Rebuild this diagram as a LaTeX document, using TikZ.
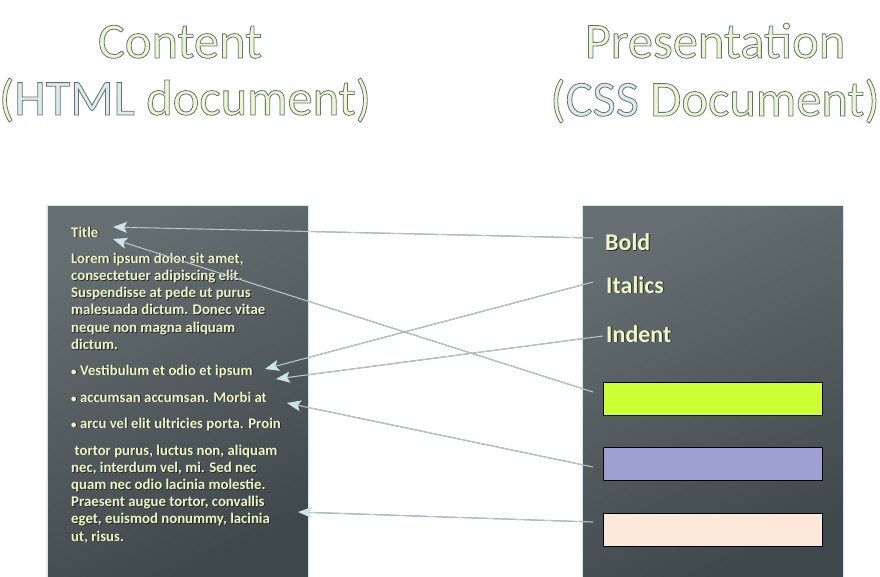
\documentclass[tikz,border=0pt]{standalone}
\usepackage{fontspec}
\setmainfont{Carlito}
\usetikzlibrary{arrows.meta}

\definecolor{headfill}{HTML}{EBF7D3}
\definecolor{headblue}{HTML}{D9ECF2}
\definecolor{panelA}{HTML}{656F71}
\definecolor{panelB}{HTML}{3F484A}
\definecolor{panelrim}{HTML}{D2E8EA}
\definecolor{txt}{HTML}{EEF6C6}
\definecolor{shadowc}{HTML}{262C2D}
\definecolor{lime}{HTML}{CEFF33}
\definecolor{lav}{HTML}{9EA0D3}
\definecolor{peach}{HTML}{FDE9D9}
\definecolor{wire}{HTML}{CAD6DA}
\definecolor{wiredark}{HTML}{8A9498}
\definecolor{tipc}{HTML}{CFE3EB}

% outlined heading text: fill in the current colour, thin grey stroke
\newcommand\outl[2]{{\color{#1}\special{pdf:literal direct 2 Tr 0.8 w 0.40 0.45 0.42 RG}#2\special{pdf:literal direct 0 Tr 0.4 w}}}
% text with a small drop shadow
\newcommand\shd[1]{\leavevmode\rlap{\kern0.9pt\raisebox{-0.9pt}{\color{shadowc}#1}}#1}
\newcommand\bul{{\fontsize{11}{11}\selectfont•}}

\tikzset{
  headtext/.style={font=\fontsize{50.5}{50}\selectfont, inner sep=0, anchor=base},
  panelbox/.style={draw=panelrim, line width=0.8pt, top color=panelA, bottom color=panelB,
    shading angle=25, inner sep=0, anchor=north west},
  swatch/.style={draw=black, line width=1pt, inner sep=0, anchor=north west,
    minimum width=219pt, minimum height=33pt},
  body/.style={font=\bfseries\fontsize{14.8}{17}\selectfont, text=txt, inner sep=0, anchor=base west},
  label/.style={font=\bfseries\fontsize{24}{24}\selectfont, text=txt, inner sep=0, anchor=base west},
  wireunder/.style={draw=wiredark, line width=1.2pt, shorten >=10pt},
  wireover/.style={draw=wire, line width=0.6pt,
    -{Stealth[length=14pt,width=11pt,inset=3pt,color=tipc,fill=tipc]}},
}

\begin{document}
\begin{tikzpicture}[x=1pt,y=-1pt]
\useasboundingbox (0,0) rectangle (880,577);
\fill[white] (0,0) rectangle (880,577);

% headings
\node[headtext] (h1) at (180,58) {\outl{headfill}{Content}};
\node[headtext] (h2) at (185,115) {\outl{headfill}{(}\outl{headblue}{HTML}\outl{headfill}{ document)}};
\node[headtext] (h3) at (715,58) {\outl{headfill}{Presentation}};
\node[headtext] (h4) at (715,116) {\outl{headfill}{(}\outl{headblue}{CSS}\outl{headfill}{ Document)}};

% the two panels
\node[panelbox, minimum width=261.5pt, minimum height=371pt] (lpanel) at (46.5,205.5) {};
\node[panelbox, minimum width=261pt, minimum height=371pt] (rpanel) at (582,205.5) {};

% content side
\node[body] (title) at (71,237) {\shd{Title}};
\foreach \t [count=\i] in {Lorem ipsum dolor sit amet{,},consectetuer adipiscing elit.,
    Suspendisse at pede ut purus,malesuada dictum. Donec vitae,neque non magna aliquam,dictum.}
  \node[body] (pa\i) at (71,{263+17.3*(\i-1)}) {\shd{\t}};
\node[body] (b1) at (71,375) {\shd{\bul\ Vestibulum et odio et ipsum}};
\node[body] (b2) at (71,402) {\shd{\bul\ accumsan accumsan. Morbi at}};
\node[body] (b3) at (71,428) {\shd{\bul\ arcu vel elit ultricies porta. Proin}};
\foreach \t [count=\i] in {\ tortor purus{,} luctus non{,} aliquam,nec{,} interdum vel{,} mi. Sed nec,
    quam nec odio lacinia molestie.,Praesent augue tortor{,} convallis,eget{,} euismod nonummy{,} lacinia,ut{,} risus.}
  \node[body] (pb\i) at (71,{455+17.2*(\i-1)}) {\shd{\t}};

% presentation side
\node[label] (bold) at (605,251) {\shd{Bold}};
\node[label] (ital) at (606,293) {\shd{Italics}};
\node[label] (indent) at (606,342) {\shd{Indent}};
\node[swatch, fill=lime] (lime) at (603,382) {};
\node[swatch, fill=lav] (lav) at (603,447) {};
\node[swatch, fill=peach] (peach) at (603,513) {};

% connector ends
\coordinate (sBold) at (593,238);
\coordinate (sLime) at (593,392);
\coordinate (sItal) at (593,282);
\coordinate (sIndent) at (603,336);
\coordinate (sLav) at (593,467);
\coordinate (sPeach) at (593,522);
\coordinate (tTitleA) at (113,227);
\coordinate (tTitleB) at (113,239);
\coordinate (tVest) at (265,369);
\coordinate (tVestB) at (276,379);
\coordinate (tMorbi) at (287,403);
\coordinate (tTortor) at (298,512);

% connectors
\foreach \s/\t in {sBold/tTitleA,sLime/tTitleB,sItal/tVest,sIndent/tVestB,sLav/tMorbi,sPeach/tTortor}{
  \draw[wireunder] (\s) -- (\t);
  \draw[wireover] (\s) -- (\t);
}
\end{tikzpicture}
\end{document}
